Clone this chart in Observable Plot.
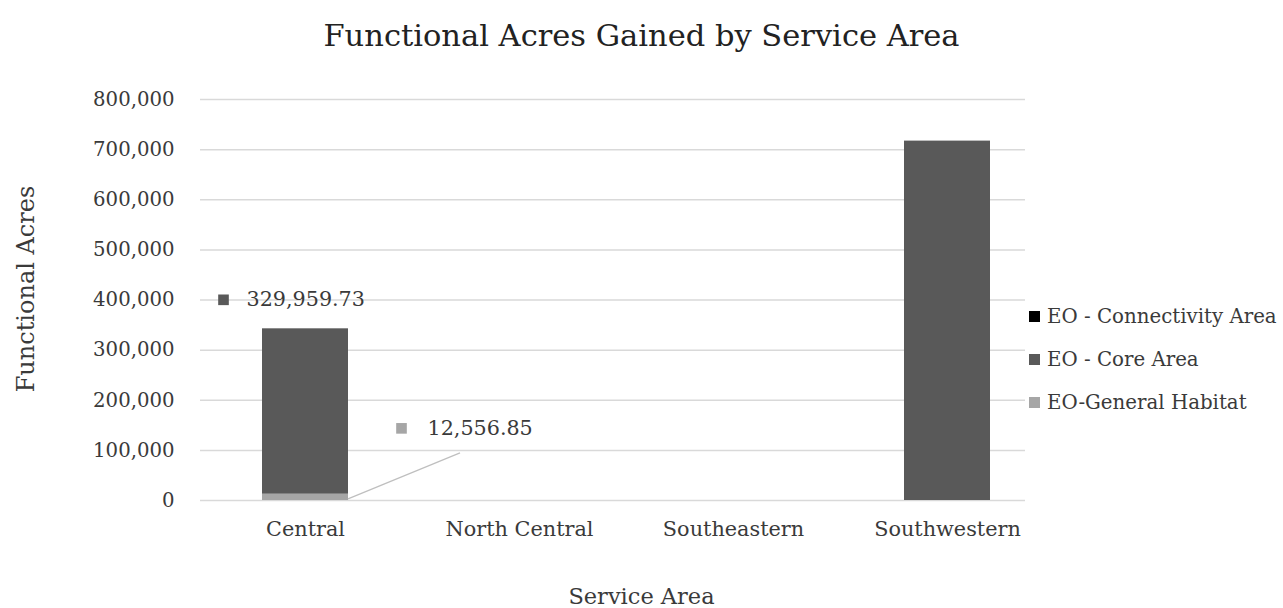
<!DOCTYPE html>
<html>
<head>
<meta charset="utf-8">
<script src="https://cdn.jsdelivr.net/npm/d3@7"></script>
<script src="https://cdn.jsdelivr.net/npm/@observablehq/plot@0.6"></script>
<style>
  html, body { margin: 0; padding: 0; background: #fff; }
  #wrap { position: relative; width: 1283px; height: 608px; font-family: "DejaVu Serif", serif; color: #3a3a3a; }
  #chart { position: absolute; left: 0; top: 0; }
  .title { position: absolute; left: 0; width: 1283px; top: 18px; text-align: center; font-size: 30.5px; color: #222; }
  .xtitle { position: absolute; left: 0; width: 1283px; top: 583px; text-align: center; font-size: 22.5px; }
  .ytitle { position: absolute; left: 26px; top: 289px; transform: translate(-50%, -50%) rotate(-90deg); white-space: nowrap; font-size: 24px; }
  .legend { position: absolute; left: 1029px; top: 295px; font-size: 19.8px; }
  .legend .row { display: flex; align-items: center; height: 43px; white-space: nowrap; }
  .legend .sw { width: 11px; height: 11px; margin-right: 7px; }
</style>
</head>
<body>
<div id="wrap">
  <div id="chart"></div>
  <div class="title">Functional Acres Gained by Service Area</div>
  <div class="ytitle">Functional Acres</div>
  <div class="xtitle">Service Area</div>
  <div class="legend" id="legend"></div>
</div>
<script>
const categories = ["Central", "North Central", "Southeastern", "Southwestern"];
const seriesNames = ["EO - Connectivity Area", "EO - Core Area", "EO-General Habitat"];
const seriesColors = ["#000000", "#595959", "#a6a6a6"];
const connectivityValues = [0, 0, 0, 0];
const coreValues = [329959.73, 0, 0, 717000];
const generalValues = [12556.85, 0, 0, 0];
const yTicks = [0, 100000, 200000, 300000, 400000, 500000, 600000, 700000, 800000];

// long table, bottom segment first
const rows = [];
categories.forEach((c, i) => {
  rows.push({category: c, series: seriesNames[2], value: generalValues[i]});
  rows.push({category: c, series: seriesNames[1], value: coreValues[i]});
  rows.push({category: c, series: seriesNames[0], value: connectivityValues[i]});
});

// data labels for Central
const coreLabel = [{category: "Central", y: generalValues[0] + coreValues[0], text: d3.format(",.2f")(coreValues[0])}];
const generalLabel = [{category: "Central", y: generalValues[0] / 2, text: d3.format(",.2f")(generalValues[0])}];

const chart = Plot.plot({
  width: 1283,
  height: 608,
  marginLeft: 200,
  marginRight: 258,
  marginTop: 99,
  marginBottom: 108,
  style: {fontFamily: "DejaVu Serif, serif", fontSize: "19px", color: "#3a3a3a", background: "transparent"},
  x: {domain: categories, range: [198, 1054], paddingInner: 0.6, paddingOuter: 0.3, label: null},
  y: {domain: [0, 800000], label: null},
  color: {domain: seriesNames, range: seriesColors},
  marks: [
    Plot.ruleY(yTicks, {stroke: "#d9d9d9", strokeWidth: 1.5}),
    Plot.barY(rows, {x: "category", y: "value", fill: "series", order: seriesNames.slice().reverse()}),
    Plot.axisY({ticks: yTicks, tickFormat: d3.format(","), tickSize: 0, tickPadding: 26, fontSize: 19.7, label: null}),
    Plot.axisX({tickSize: 0, tickPadding: 21, fontSize: 20.8, label: null}),
    Plot.dot(coreLabel, {x: "category", y: "y", dx: -82, dy: -29, symbol: "square", r: 6, fill: seriesColors[1], stroke: null}),
    Plot.text(coreLabel, {x: "category", y: "y", text: "text", dx: -59, dy: -29, textAnchor: "start", fontSize: 20.7, fill: "#3a3a3a"}),
    Plot.dot(generalLabel, {x: "category", y: "y", dx: 96, dy: -69, symbol: "square", r: 6, fill: seriesColors[2], stroke: null}),
    Plot.text(generalLabel, {x: "category", y: "y", text: "text", dx: 122, dy: -69, textAnchor: "start", fontSize: 20.7, fill: "#3a3a3a"})
  ]
});
document.getElementById("chart").appendChild(chart);

// leader line from the General Habitat segment to its label, using the plot's scales
const xs = chart.scale("x"), ys = chart.scale("y");
const bx = xs.apply("Central") + xs.bandwidth;
const by = ys.apply(generalLabel[0].y);
d3.select(chart).append("line")
  .attr("x1", bx).attr("y1", by + 2)
  .attr("x2", bx + 112).attr("y2", by - 44)
  .attr("stroke", "#bfbfbf").attr("stroke-width", 1.2);

// legend
const legend = d3.select("#legend");
seriesNames.forEach((s, i) => {
  const row = legend.append("div").attr("class", "row");
  row.append("div").attr("class", "sw").style("background", seriesColors[i]);
  row.append("span").text(s);
});
</script>
</body>
</html>
